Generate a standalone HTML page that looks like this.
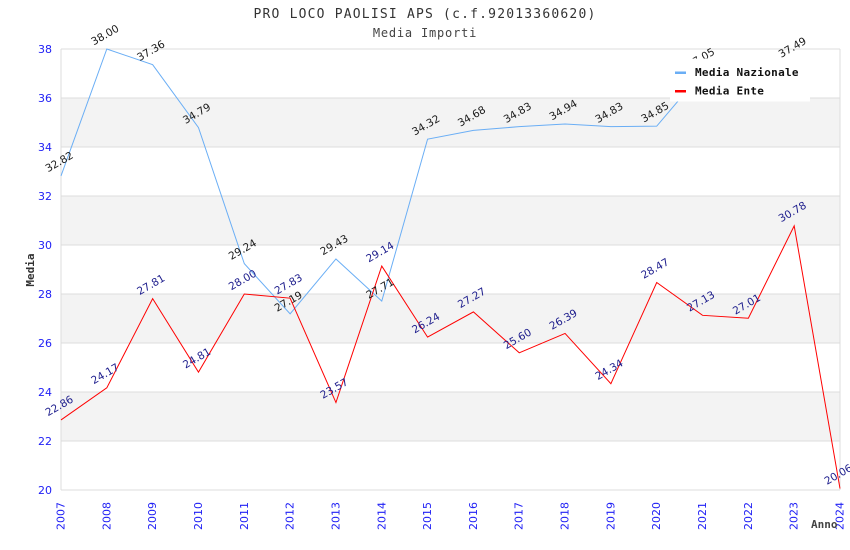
<!DOCTYPE html>
<html>
<head>
<meta charset="utf-8">
<style>
html,body{margin:0;padding:0;background:#fff;}
svg{display:block;}
.tk{font-family:"DejaVu Sans","Liberation Sans",sans-serif;font-size:11px;fill:#2121f5;}
.ln{font-family:"DejaVu Sans","Liberation Sans",sans-serif;font-size:10.5px;fill:#1a1a1a;}
.le{font-family:"DejaVu Sans","Liberation Sans",sans-serif;font-size:10.5px;fill:#1c1c8c;}
.mono{font-family:"DejaVu Sans Mono","Liberation Mono",monospace;}
</style>
</head>
<body>
<svg width="850" height="550" viewBox="0 0 850 550" xmlns="http://www.w3.org/2000/svg">
<rect x="0" y="0" width="850" height="550" fill="#fff"/>
<g fill="#f3f3f3">
<rect x="61" y="98" width="779" height="49"/>
<rect x="61" y="196" width="779" height="49"/>
<rect x="61" y="294" width="779" height="49"/>
<rect x="61" y="392" width="779" height="49"/>
</g>
<g stroke="#dcdcdc" stroke-width="1" shape-rendering="crispEdges">
<line x1="61" y1="49" x2="840" y2="49"/>
<line x1="61" y1="98" x2="840" y2="98"/>
<line x1="61" y1="147" x2="840" y2="147"/>
<line x1="61" y1="196" x2="840" y2="196"/>
<line x1="61" y1="245" x2="840" y2="245"/>
<line x1="61" y1="294" x2="840" y2="294"/>
<line x1="61" y1="343" x2="840" y2="343"/>
<line x1="61" y1="392" x2="840" y2="392"/>
<line x1="61" y1="441" x2="840" y2="441"/>
<line x1="61" y1="490" x2="840" y2="490"/>
<line x1="61" y1="49" x2="61" y2="490"/>
<line x1="840" y1="49" x2="840" y2="490"/>
</g>
<text class="mono" x="425" y="18" text-anchor="middle" font-size="13" letter-spacing="1.2" fill="#333">PRO LOCO PAOLISI APS (c.f.92013360620)</text>
<text class="mono" x="425" y="37" text-anchor="middle" font-size="12" letter-spacing="0.8" fill="#444">Media Importi</text>
<g class="tk" text-anchor="end">
<text x="52" y="53">38</text>
<text x="52" y="102">36</text>
<text x="52" y="151">34</text>
<text x="52" y="200">32</text>
<text x="52" y="249">30</text>
<text x="52" y="298">28</text>
<text x="52" y="347">26</text>
<text x="52" y="396">24</text>
<text x="52" y="445">22</text>
<text x="52" y="494">20</text>
</g>
<g class="tk" text-anchor="end">
<text transform="translate(64.5,502) rotate(-90)">2007</text>
<text transform="translate(110.3,502) rotate(-90)">2008</text>
<text transform="translate(156.2,502) rotate(-90)">2009</text>
<text transform="translate(202,502) rotate(-90)">2010</text>
<text transform="translate(247.8,502) rotate(-90)">2011</text>
<text transform="translate(293.6,502) rotate(-90)">2012</text>
<text transform="translate(339.4,502) rotate(-90)">2013</text>
<text transform="translate(385.3,502) rotate(-90)">2014</text>
<text transform="translate(431.1,502) rotate(-90)">2015</text>
<text transform="translate(476.9,502) rotate(-90)">2016</text>
<text transform="translate(522.7,502) rotate(-90)">2017</text>
<text transform="translate(568.6,502) rotate(-90)">2018</text>
<text transform="translate(614.4,502) rotate(-90)">2019</text>
<text transform="translate(660.2,502) rotate(-90)">2020</text>
<text transform="translate(706,502) rotate(-90)">2021</text>
<text transform="translate(751.9,502) rotate(-90)">2022</text>
<text transform="translate(797.7,502) rotate(-90)">2023</text>
<text transform="translate(843.5,502) rotate(-90)">2024</text>
</g>
<text class="mono" transform="translate(34,270) rotate(-90)" text-anchor="middle" font-size="11" font-weight="bold" fill="#333">Media</text>
<text class="mono" x="811" y="528" font-size="11" font-weight="bold" fill="#444">Anno</text>
<polyline fill="none" stroke="#6aaef5" stroke-width="1" points="61,175.91 106.82,49 152.65,64.68 198.47,127.64 244.29,263.62 290.12,313.85 335.94,258.97 381.76,301.1 427.59,139.16 473.41,130.34 519.24,126.66 565.06,123.97 610.88,126.66 656.71,126.18 702.53,72.27 748.35,68.6 794.18,61.49"/>
<polyline fill="none" stroke="#ff0000" stroke-width="1" points="61,419.93 106.82,387.83 152.65,298.65 198.47,372.15 244.29,294 290.12,298.17 335.94,402.53 381.76,266.07 427.59,337.12 473.41,311.88 519.24,352.8 565.06,333.45 610.88,383.67 656.71,282.49 702.53,315.32 748.35,318.25 794.18,225.89 840,488.53"/>
<g class="ln" text-anchor="middle">
<text transform="translate(61,164.9) rotate(-30)">32.82</text>
<text transform="translate(106.82,38) rotate(-30)">38.00</text>
<text transform="translate(152.65,53.7) rotate(-30)">37.36</text>
<text transform="translate(198.47,116.6) rotate(-30)">34.79</text>
<text transform="translate(244.29,252.6) rotate(-30)">29.24</text>
<text transform="translate(290.12,304.5) rotate(-30)">27.19</text>
<text transform="translate(335.94,248) rotate(-30)">29.43</text>
<text transform="translate(381.76,291.5) rotate(-30)">27.71</text>
<text transform="translate(427.59,128.2) rotate(-30)">34.32</text>
<text transform="translate(473.41,119.3) rotate(-30)">34.68</text>
<text transform="translate(519.24,115.7) rotate(-30)">34.83</text>
<text transform="translate(565.06,113) rotate(-30)">34.94</text>
<text transform="translate(610.88,115.7) rotate(-30)">34.83</text>
<text transform="translate(656.71,115.2) rotate(-30)">34.85</text>
<text transform="translate(702.53,61.3) rotate(-30)">37.05</text>
<text transform="translate(794.18,50.5) rotate(-30)">37.49</text>
</g>
<g class="le" text-anchor="middle">
<text transform="translate(61,408.9) rotate(-30)">22.86</text>
<text transform="translate(106.82,376.8) rotate(-30)">24.17</text>
<text transform="translate(152.65,287.7) rotate(-30)">27.81</text>
<text transform="translate(198.47,361.2) rotate(-30)">24.81</text>
<text transform="translate(244.29,283) rotate(-30)">28.00</text>
<text transform="translate(290.12,287.2) rotate(-30)">27.83</text>
<text transform="translate(335.94,391.5) rotate(-30)">23.57</text>
<text transform="translate(381.76,255.1) rotate(-30)">29.14</text>
<text transform="translate(427.59,326.1) rotate(-30)">26.24</text>
<text transform="translate(473.41,300.9) rotate(-30)">27.27</text>
<text transform="translate(519.24,341.8) rotate(-30)">25.60</text>
<text transform="translate(565.06,322.5) rotate(-30)">26.39</text>
<text transform="translate(610.88,372.7) rotate(-30)">24.34</text>
<text transform="translate(656.71,271.5) rotate(-30)">28.47</text>
<text transform="translate(702.53,304.3) rotate(-30)">27.13</text>
<text transform="translate(748.35,307.3) rotate(-30)">27.01</text>
<text transform="translate(794.18,214.9) rotate(-30)">30.78</text>
<text transform="translate(840,477.5) rotate(-30)">20.06</text>
</g>
<rect x="670" y="58.5" width="140" height="43" fill="#fff"/>
<rect x="675" y="71.5" width="11" height="2.5" fill="#6aaef5"/>
<rect x="675" y="90" width="11" height="2.5" fill="#ff0000"/>
<text class="mono" x="695" y="76" font-size="11" font-weight="bold" letter-spacing="0.3" fill="#111">Media Nazionale</text>
<text class="mono" x="695" y="94.5" font-size="11" font-weight="bold" letter-spacing="0.3" fill="#111">Media Ente</text>
</svg>
</body>
</html>
